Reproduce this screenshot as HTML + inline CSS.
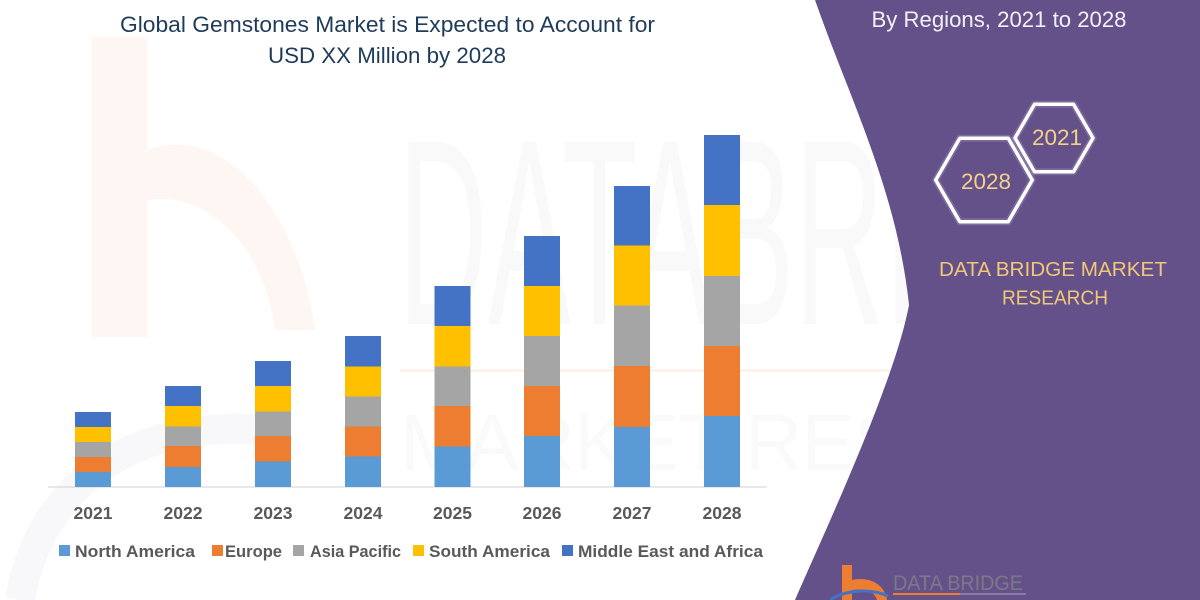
<!DOCTYPE html>
<html>
<head>
<meta charset="utf-8">
<style>
  html,body{margin:0;padding:0;background:#fff;}
  svg{display:block;}
  text{font-family:"Liberation Sans", sans-serif;}
</style>
</head>
<body>
<svg width="1200" height="600" viewBox="0 0 1200 600" xmlns="http://www.w3.org/2000/svg">
  <rect x="0" y="0" width="1200" height="600" fill="#ffffff"/>

  <!-- faint watermark -->
  <g>
    <rect x="92" y="37" width="55" height="300" fill="#fef6f2"/>
    <path d="M147,150 C230,120 300,220 315,330 L275,330 C265,250 210,190 147,200 Z" fill="#fef6f2"/>
    <path d="M20,600 C40,480 140,420 260,430" fill="none" stroke="#f8f8fa" stroke-width="30"/>
    <text x="398" y="324" font-size="265" fill="#000" fill-opacity="0.025" textLength="790" lengthAdjust="spacingAndGlyphs">DATABRIDGE</text>
    <text x="400" y="470" font-size="80" fill="#000" fill-opacity="0.02" textLength="780" lengthAdjust="spacing">MARKET RESEARCH</text>
    <rect x="400" y="369" width="500" height="3" fill="#fdf3ec"/>
  </g>

  <!-- Title -->
  <text x="387.5" y="32" font-size="22.5" fill="#1f3b5a" text-anchor="middle" textLength="535" lengthAdjust="spacingAndGlyphs">Global Gemstones Market is Expected to Account for</text>
  <text x="387" y="63" font-size="22.5" fill="#1f3b5a" text-anchor="middle" textLength="238" lengthAdjust="spacingAndGlyphs">USD XX Million by 2028</text>

  <!-- axis -->
  <line x1="48" y1="487" x2="767" y2="487" stroke="#d9d9d9" stroke-width="1.2"/>

  <!-- bars -->
  <g id="bars">
    <rect x="75" y="472" width="36" height="15" fill="#5b9bd5"/>
    <rect x="75" y="457" width="36" height="15" fill="#ed7d31"/>
    <rect x="75" y="442" width="36" height="15" fill="#a5a5a5"/>
    <rect x="75" y="427" width="36" height="15" fill="#ffc000"/>
    <rect x="75" y="412" width="36" height="15" fill="#4472c4"/>

    <rect x="165" y="467" width="36" height="20" fill="#5b9bd5"/>
    <rect x="165" y="446" width="36" height="21" fill="#ed7d31"/>
    <rect x="165" y="426.5" width="36" height="19.5" fill="#a5a5a5"/>
    <rect x="165" y="406" width="36" height="20.5" fill="#ffc000"/>
    <rect x="165" y="386" width="36" height="20" fill="#4472c4"/>

    <rect x="255" y="461.5" width="36" height="25.5" fill="#5b9bd5"/>
    <rect x="255" y="436" width="36" height="25.5" fill="#ed7d31"/>
    <rect x="255" y="411.5" width="36" height="24.5" fill="#a5a5a5"/>
    <rect x="255" y="386" width="36" height="25.5" fill="#ffc000"/>
    <rect x="255" y="361" width="36" height="25" fill="#4472c4"/>

    <rect x="345" y="456.5" width="36" height="30.5" fill="#5b9bd5"/>
    <rect x="345" y="426.5" width="36" height="30" fill="#ed7d31"/>
    <rect x="345" y="396.5" width="36" height="30" fill="#a5a5a5"/>
    <rect x="345" y="366.5" width="36" height="30" fill="#ffc000"/>
    <rect x="345" y="336" width="36" height="30.5" fill="#4472c4"/>

    <rect x="434.5" y="446.5" width="36" height="40.5" fill="#5b9bd5"/>
    <rect x="434.5" y="406" width="36" height="40.5" fill="#ed7d31"/>
    <rect x="434.5" y="366.5" width="36" height="39.5" fill="#a5a5a5"/>
    <rect x="434.5" y="326" width="36" height="40.5" fill="#ffc000"/>
    <rect x="434.5" y="286" width="36" height="40" fill="#4472c4"/>

    <rect x="524" y="436" width="36" height="51" fill="#5b9bd5"/>
    <rect x="524" y="386" width="36" height="50" fill="#ed7d31"/>
    <rect x="524" y="336" width="36" height="50" fill="#a5a5a5"/>
    <rect x="524" y="286" width="36" height="50" fill="#ffc000"/>
    <rect x="524" y="236" width="36" height="50" fill="#4472c4"/>

    <rect x="614" y="427" width="36" height="60" fill="#5b9bd5"/>
    <rect x="614" y="366" width="36" height="61" fill="#ed7d31"/>
    <rect x="614" y="305.5" width="36" height="60.5" fill="#a5a5a5"/>
    <rect x="614" y="245.5" width="36" height="60" fill="#ffc000"/>
    <rect x="614" y="186" width="36" height="59.5" fill="#4472c4"/>

    <rect x="704" y="416" width="36" height="71" fill="#5b9bd5"/>
    <rect x="704" y="346" width="36" height="70" fill="#ed7d31"/>
    <rect x="704" y="276" width="36" height="70" fill="#a5a5a5"/>
    <rect x="704" y="205" width="36" height="71" fill="#ffc000"/>
    <rect x="704" y="135" width="36" height="70" fill="#4472c4"/>
  </g>

  <!-- year labels -->
  <g font-size="17.5" font-weight="bold" fill="#595959" text-anchor="middle">
    <text x="93" y="519" textLength="39" lengthAdjust="spacingAndGlyphs">2021</text>
    <text x="183" y="519" textLength="39" lengthAdjust="spacingAndGlyphs">2022</text>
    <text x="273" y="519" textLength="39" lengthAdjust="spacingAndGlyphs">2023</text>
    <text x="363" y="519" textLength="39" lengthAdjust="spacingAndGlyphs">2024</text>
    <text x="452.5" y="519" textLength="39" lengthAdjust="spacingAndGlyphs">2025</text>
    <text x="542" y="519" textLength="39" lengthAdjust="spacingAndGlyphs">2026</text>
    <text x="632" y="519" textLength="39" lengthAdjust="spacingAndGlyphs">2027</text>
    <text x="722" y="519" textLength="39" lengthAdjust="spacingAndGlyphs">2028</text>
  </g>

  <!-- legend -->
  <g font-size="17" font-weight="bold" fill="#595959">
    <rect x="59" y="545" width="11" height="11" fill="#5b9bd5"/>
    <text x="75" y="557" textLength="120" lengthAdjust="spacingAndGlyphs">North America</text>
    <rect x="212" y="545" width="11" height="11" fill="#ed7d31"/>
    <text x="225" y="557" textLength="57" lengthAdjust="spacingAndGlyphs">Europe</text>
    <rect x="293" y="545" width="11" height="11" fill="#a5a5a5"/>
    <text x="310" y="557" textLength="91" lengthAdjust="spacingAndGlyphs">Asia Pacific</text>
    <rect x="413" y="545" width="11" height="11" fill="#ffc000"/>
    <text x="429" y="557" textLength="121" lengthAdjust="spacingAndGlyphs">South America</text>
    <rect x="562" y="545" width="11" height="11" fill="#4472c4"/>
    <text x="578" y="557" textLength="185" lengthAdjust="spacingAndGlyphs">Middle East and Africa</text>
  </g>

  <!-- purple panel -->
  <path d="M815,0 C848,95 897,190 909,305 C895,380 830,520 795,600 L1200,600 L1200,0 Z" fill="#65518a"/>

  <text x="871.5" y="27" font-size="22" fill="#f2f0f7" textLength="255" lengthAdjust="spacingAndGlyphs">By Regions, 2021 to 2028</text>

  <!-- hexagons -->
  <g fill="none" stroke="#ffffff" stroke-linejoin="round">
    <polygon points="1015,138 1034.5,104.2 1073.5,104.2 1093,138 1073.5,171.8 1034.5,171.8" stroke-width="7" stroke-opacity="0.15"/>
    <polygon points="1015,138 1034.5,104.2 1073.5,104.2 1093,138 1073.5,171.8 1034.5,171.8" stroke-width="3.5"/>
    <polygon points="935.7,180 959.8,138.2 1008.2,138.2 1032.3,180 1008.2,221.8 959.8,221.8" stroke-width="7" stroke-opacity="0.15"/>
    <polygon points="935.7,180 959.8,138.2 1008.2,138.2 1032.3,180 1008.2,221.8 959.8,221.8" stroke-width="3.5"/>
  </g>
  <text x="1057" y="145" font-size="22.5" fill="#f3d08c" text-anchor="middle" textLength="50" lengthAdjust="spacingAndGlyphs">2021</text>
  <text x="986" y="189" font-size="22.5" fill="#f3d08c" text-anchor="middle" textLength="50" lengthAdjust="spacingAndGlyphs">2028</text>

  <text x="1053" y="276" font-size="20.5" fill="#f0c878" text-anchor="middle" textLength="228" lengthAdjust="spacingAndGlyphs">DATA BRIDGE MARKET</text>
  <text x="1055" y="304.5" font-size="20.5" fill="#f0c878" text-anchor="middle" textLength="106" lengthAdjust="spacingAndGlyphs">RESEARCH</text>

  <!-- bottom logo -->
  <g>
    <rect x="842" y="565" width="10" height="35" fill="#ed7d31"/>
    <path d="M852,580 C870,576 885,585 887,600 L877,600 C875,592 866,588 852,590 Z" fill="#ed7d31"/>
    <path d="M830,600 C845,590 870,588 888,596" fill="none" stroke="#4472c4" stroke-width="3"/>
    <text x="893" y="590" font-size="21" fill="#7a7a86" textLength="130" lengthAdjust="spacingAndGlyphs">DATA BRIDGE</text>
    <rect x="893" y="593" width="67" height="2" fill="#ed7d31"/>
    <rect x="960" y="593" width="66" height="2" fill="#8b7aa8"/>
  </g>
</svg>
</body>
</html>
